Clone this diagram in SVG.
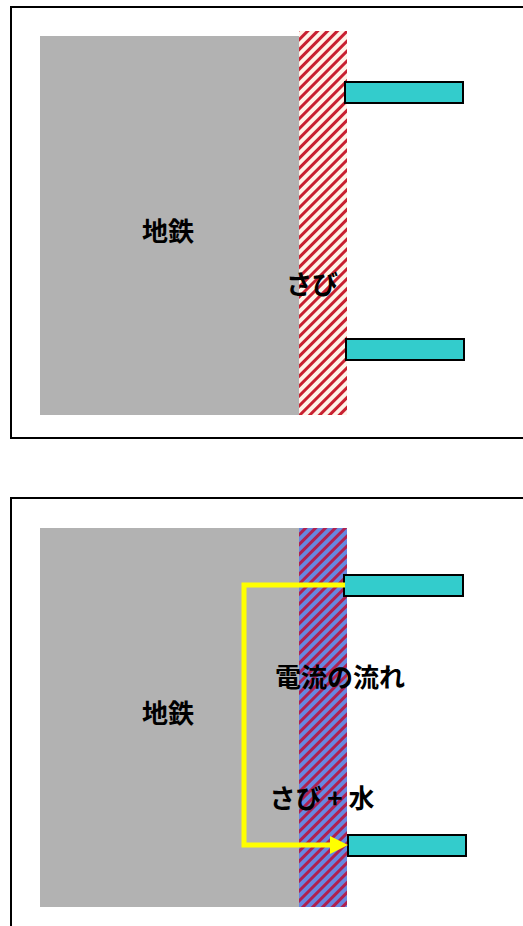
<svg xmlns="http://www.w3.org/2000/svg" width="523" height="926" viewBox="0 0 523 926">
<style>
.frame{fill:none;stroke:#000;stroke-width:2}
.iron{fill:#b2b2b2}
.bolt{fill:#33cccc;stroke:#000;stroke-width:2}
.lbl{font-family:"Noto Sans CJK JP","Noto Sans CJK SC",sans-serif;font-weight:bold;font-size:26px;fill:#000;text-anchor:middle;dominant-baseline:central}
.flow{fill:none;stroke:#ffff00;stroke-width:5}
</style>
<defs>
<pattern id="rust" patternUnits="userSpaceOnUse" width="7" height="7" patternTransform="rotate(45)">
<rect width="7" height="7" fill="#fff3e8"/>
<rect width="3" height="7" fill="#c82030"/>
</pattern>
<pattern id="rustw" patternUnits="userSpaceOnUse" width="7" height="7" patternTransform="rotate(45)">
<rect width="7" height="7" fill="#6688e0"/>
<rect width="3" height="7" fill="#b02050"/>
</pattern>
</defs>
<g id="panel1">
<rect class="frame" x="11" y="7" width="520" height="431"/>
<g id="iron1"><rect class="iron" x="40" y="36" width="259" height="379"/><text class="lbl" x="168" y="229">地鉄</text></g>
<g id="rust1"><rect x="299" y="31" width="48" height="384" fill="url(#rust)"/><text class="lbl" x="312" y="282">さび</text></g>
<g id="bolt1a"><rect class="bolt" x="345" y="82" width="118" height="21"/></g>
<g id="bolt1b"><rect class="bolt" x="346" y="339" width="118" height="21"/></g>
</g>
<g id="panel2">
<rect class="frame" x="11" y="498" width="520" height="440"/>
<g id="iron2"><rect class="iron" x="40" y="528" width="259" height="379"/><text class="lbl" x="168" y="711">地鉄</text></g>
<g id="rust2"><rect x="299" y="528" width="48" height="379" fill="url(#rustw)"/></g>
<g id="bolt2a"><rect class="bolt" x="344" y="575" width="119" height="21"/></g>
<g id="bolt2b"><rect class="bolt" x="348" y="835" width="118" height="21"/></g>
<g id="connectors">
<path class="flow" d="M345,585 H244 V845 H332"/>
<polygon points="330,836 348,845 330,854" fill="#ffff00"/>
</g>
<text id="lblFlow" class="lbl" x="340" y="675">電流の流れ</text>
<text id="lblRustWater" class="lbl" x="322" y="796">さび + 水</text>
</g>
</svg>
